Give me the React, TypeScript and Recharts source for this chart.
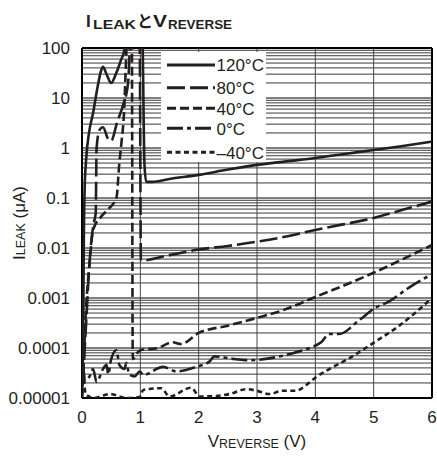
import { LineChart, Line, XAxis, YAxis, ReferenceLine } from "recharts"

const FONT = '"Liberation Sans", Arial, sans-serif'
const CJK = '"Noto Sans CJK JP", "Liberation Sans", sans-serif'
const INK = "#231f20"

// axes
const vTicks = [0, 1, 2, 3, 4, 5, 6]
const iTicks = [0.00001, 0.0001, 0.001, 0.01, 0.1, 1, 10, 100]
const iTickLabels = ["0.00001", "0.0001", "0.001", "0.01", "0.1", "1", "10", "100"]

const seriesNames = ["120°C", "80°C", "40°C", "0°C", "–40°C"]

// 120°C
const v120 = [0, 0.02, 0.03, 0.045, 0.07, 0.12, 0.19, 0.26, 0.33, 0.36, 0.42, 0.5, 0.58, 0.67, 0.73, 0.76, 1.02, 1.04, 1.07, 1.1, 1.2, 1.5, 2, 2.5, 3, 3.5, 4, 4.5, 5, 5.5, 6]
const i120 = [0.00002, 0.0002, 0.01, 0.15, 0.57, 2, 5, 15, 36, 42, 30, 20, 30, 58, 95, 300, 300, 100, 0.5, 0.21, 0.21, 0.24, 0.29, 0.37, 0.46, 0.54, 0.63, 0.76, 0.91, 1.1, 1.34]

// 80°C
const v80 = [0, 0.03, 0.07, 0.12, 0.19, 0.235, 0.25, 0.3, 0.36, 0.45, 0.5, 0.6, 0.7, 0.79, 0.82, 0.84, 0.97, 0.99, 1.01, 1.5, 2, 2.5, 3, 3.5, 4, 4.5, 5, 5.5, 6]
const i80 = [0.00002, 0.00005, 0.0003, 0.0036, 0.027, 0.05, 1, 2.3, 2.6, 1.5, 1.4, 3.2, 7, 20, 100, 300, 300, 100, 0.0056, 0.0072, 0.0093, 0.011, 0.0134, 0.017, 0.023, 0.03, 0.04, 0.058, 0.085]

// 40°C
const v40 = [0, 0.03, 0.06, 0.08, 0.13, 0.19, 0.31, 0.45, 0.59, 0.64, 0.68, 0.72, 0.76, 0.78, 0.84, 0.855, 0.87, 0.95, 1.0, 1.3, 1.55, 1.7, 2, 2.5, 3, 3.5, 4, 4.5, 5, 5.5, 6]
const i40 = [0.00001, 0.00005, 0.0004, 0.001, 0.005, 0.023, 0.04, 0.06, 0.1, 0.5, 1.4, 5, 80, 300, 300, 100, 0.00006, 0.00008, 0.00009, 0.0001, 0.00013, 0.00012, 0.0002, 0.00028, 0.0004, 0.0006, 0.00105, 0.0018, 0.0032, 0.006, 0.0115]

// 0°C
const v0 = [0, 0.02, 0.05, 0.13, 0.19, 0.25, 0.36, 0.42, 0.45, 0.5, 0.59, 0.64, 0.73, 0.76, 0.81, 0.9, 0.99, 1.05, 1.39, 1.62, 1.96, 2.19, 2.27, 2.53, 2.87, 3.21, 3.56, 3.9, 4.1, 4.24, 4.41, 4.75, 5.04, 5.26, 5.6, 6]
const i0 = [0.00001, 0.00004, 0.000022, 0.000027, 0.000038, 0.000021, 0.000038, 0.000046, 0.00003, 0.00006, 0.00009, 0.000046, 0.000038, 0.00005, 0.00003, 0.000027, 0.000034, 0.000029, 0.000042, 0.000034, 0.000042, 0.000054, 0.000068, 0.000062, 0.000057, 0.000062, 0.000076, 0.0001, 0.00013, 0.00019, 0.00019, 0.00036, 0.00065, 0.00085, 0.0016, 0.003]

// -40°C
const vM40 = [0, 0.03, 0.06, 0.2, 0.48, 0.76, 0.99, 1.05, 1.36, 1.5, 1.87, 2.02, 2.3, 2.53, 2.82, 2.99, 3.21, 3.44, 3.67, 3.84, 4.01, 4.24, 4.58, 5.01, 5.44, 6]
const iM40 = [0.000012, 0.000025, 0.000012, 0.00001, 0.000012, 0.00001, 0.0000105, 0.0000145, 0.0000157, 0.0000107, 0.000016, 0.0000107, 0.000011, 0.000012, 0.000015, 0.000014, 0.000012, 0.000014, 0.000014, 0.000018, 0.000026, 0.000038, 0.000062, 0.00013, 0.00028, 0.001]

const toPts = (v: number[], i: number[]) => v.map((x, k) => ({ v: x, i: i[k] }))

const series = [
  { name: seriesNames[0], data: toPts(v120, i120), dash: undefined },
  { name: seriesNames[1], data: toPts(v80, i80), dash: "18 5" },
  { name: seriesNames[2], data: toPts(v40, i40), dash: "9 4" },
  { name: seriesNames[3], data: toPts(v0, i0), dash: "16 4 4 4" },
  { name: seriesNames[4], data: toPts(vM40, iM40), dash: "5 3.5" },
]

// log grid: 2..9 inside every decade
const minorGrid = iTicks.slice(0, -1).flatMap((d) => [2, 3, 4, 5, 6, 7, 8, 9].map((k) => k * d))
const majorGrid = iTicks.slice(1, -1)

const axisTick = { fill: INK, fontSize: 17, fontFamily: FONT }

const YLabel = ({ viewBox }: any) => {
  const cy = viewBox.y + viewBox.height / 2
  return (
    <text transform={`translate(25,${cy}) rotate(-90)`} textAnchor="middle" fill={INK} fontFamily={FONT} fontSize={17}>
      <tspan>I</tspan>
      <tspan fontSize={12.5}>LEAK</tspan>
      <tspan> (μA)</tspan>
    </text>
  )
}

const XLabel = ({ viewBox }: any) => {
  const cx = viewBox.x + viewBox.width / 2
  return (
    <text x={cx} y={447} textAnchor="middle" fill={INK} fontFamily={FONT} fontSize={17}>
      <tspan>V</tspan>
      <tspan fontSize={12.5} dy={1}>REVERSE</tspan>
      <tspan dy={-1}> (V)</tspan>
    </text>
  )
}

function Title() {
  return (
    <svg style={{ position: "absolute", left: 0, top: 0 }} width={437} height={40}>
      <g fill={INK} fontFamily={FONT} fontWeight="bold">
        <text x={86} y={27} fontSize={17}>I</text>
        <text x={93} y={28.5} fontSize={13} textLength={43} lengthAdjust="spacingAndGlyphs">LEAK</text>
        <text x={137} y={27} fontSize={16} fontFamily={CJK}>と</text>
        <text x={153} y={27} fontSize={17} textLength={14} lengthAdjust="spacingAndGlyphs">V</text>
        <text x={168} y={28.5} fontSize={13} textLength={64} lengthAdjust="spacingAndGlyphs">REVERSE</text>
      </g>
    </svg>
  )
}

function LegendBox() {
  const rowY = [13, 35.7, 56.3, 76.3, 100.3]
  return (
    <svg style={{ position: "absolute", left: 161, top: 52 }} width={105} height={110}>
      <rect width={105} height={110} fill="#fff" />
      {series.map((s, k) => (
        <g key={s.name}>
          <line x1={6} x2={54} y1={rowY[k]} y2={rowY[k]} stroke={INK} strokeWidth={3} strokeDasharray={s.dash} />
          <text x={55.5} y={rowY[k] + 6.3} fill={INK} fontFamily={FONT} fontSize={17}>{s.name}</text>
        </g>
      ))}
    </svg>
  )
}

export default function App() {
  return (
    <div style={{ position: "absolute", left: 0, top: 0, width: 437, height: 460, background: "#fff" }}>
      <LineChart width={437} height={460} margin={{ top: 48, right: 5, bottom: 0, left: 0 }}>
        <XAxis
          type="number"
          dataKey="v"
          domain={[0, 6]}
          ticks={vTicks}
          allowDataOverflow
          tick={axisTick}
          tickLine={false}
          axisLine={false}
          tickSize={0}
          tickMargin={13}
          height={62}
          label={{ content: (p: any) => <XLabel {...p} /> }}
        />
        <YAxis
          type="number"
          scale="log"
          dataKey="i"
          domain={[0.00001, 100]}
          ticks={iTicks}
          allowDataOverflow
          tickFormatter={(val: number) => iTickLabels[iTicks.indexOf(val)] ?? String(val)}
          tick={axisTick}
          tickLine={false}
          axisLine={false}
          tickSize={0}
          tickMargin={12}
          width={82}
          label={{ content: (p: any) => <YLabel {...p} /> }}
        />
        {minorGrid.map((g) => (
          <ReferenceLine key={`m${g}`} y={g} stroke="#3a3a3a" strokeWidth={1} />
        ))}
        {majorGrid.map((g) => (
          <ReferenceLine key={`M${g}`} y={g} stroke="#000" strokeWidth={1} />
        ))}
        {vTicks.slice(1, -1).map((g) => (
          <ReferenceLine key={`v${g}`} x={g} stroke="#444" strokeWidth={1} />
        ))}
        <ReferenceLine x={0} stroke="#000" strokeWidth={2} />
        <ReferenceLine x={6} stroke="#000" strokeWidth={2} />
        <ReferenceLine y={0.00001} stroke="#000" strokeWidth={2} />
        <ReferenceLine y={100} stroke="#000" strokeWidth={2} />
        {series.map((s) => (
          <Line
            key={s.name}
            data={s.data}
            dataKey="i"
            name={s.name}
            type="monotone"
            stroke={INK}
            strokeWidth={2.6}
            strokeDasharray={s.dash}
            dot={false}
            activeDot={false}
            isAnimationActive={false}
          />
        ))}
      </LineChart>
      <LegendBox />
      <Title />
    </div>
  )
}
